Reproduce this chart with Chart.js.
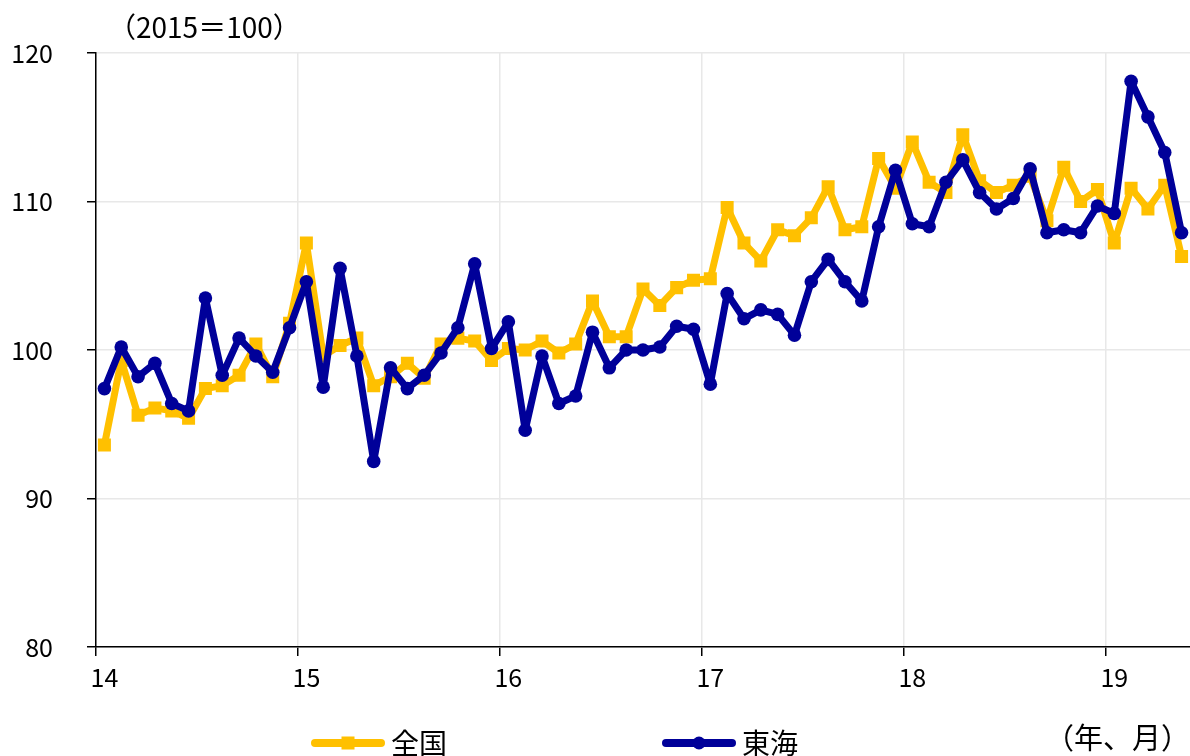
<!DOCTYPE html>
<html>
<head>
<meta charset="utf-8">
<script src="https://cdn.jsdelivr.net/npm/chart.js@4/dist/chart.umd.min.js"></script>
<style>
  html, body { margin: 0; padding: 0; background: #fff; overflow: hidden; }
  #wrap { width: 1190px; height: 756px; }
</style>
</head>
<body>
<div id="wrap"><canvas id="myChart"></canvas></div>
<script>
// 年ラベル(x軸) と月次カテゴリ 2014/1 - 2019/5
const years = ['14', '15', '16', '17', '18', '19'];
const months = [];
years.forEach(y => {
   for (let m = 1; m <= 12; m++) months.push(y + '/' + m);
});
const labels = months.slice(0, 65);

// 全国 (2015=100)
const zenkoku = [
   93.6, 99.3, 95.6, 96.1, 95.9, 95.4, 97.4, 97.6, 98.3, 100.4, 98.2, 101.8,
   107.2, 99.6, 100.3, 100.8, 97.6, 98.2, 99.1, 98.1, 100.4, 100.8, 100.6, 99.3,
   100.1, 100.0, 100.6, 99.8, 100.4, 103.3, 100.9, 100.9, 104.1, 103.0, 104.2, 104.7,
   104.8, 109.6, 107.2, 106.0, 108.1, 107.7, 108.9, 111.0, 108.1, 108.3, 112.9, 110.9,
   114.0, 111.3, 110.6, 114.5, 111.4, 110.6, 111.1, 111.7, 108.7, 112.3, 110.0, 110.8,
   107.2, 110.9, 109.5, 111.1, 106.3,
];

// 東海 (2015=100)
const tokai = [
   97.4, 100.2, 98.2, 99.1, 96.4, 95.9, 103.5, 98.3, 100.8, 99.6, 98.5, 101.5,
   104.6, 97.5, 105.5, 99.6, 92.5, 98.8, 97.4, 98.3, 99.8, 101.5, 105.8, 100.1,
   101.9, 94.6, 99.6, 96.4, 96.9, 101.2, 98.8, 100.0, 100.0, 100.2, 101.6, 101.4,
   97.7, 103.8, 102.1, 102.7, 102.4, 101.0, 104.6, 106.1, 104.6, 103.3, 108.3, 112.1,
   108.5, 108.3, 111.3, 112.8, 110.6, 109.5, 110.2, 112.2, 107.9, 108.1, 107.9, 109.7,
   109.2, 118.1, 115.7, 113.3, 107.9,
];

const yTicks = [80, 90, 100, 110, 120];

const YELLOW = '#FFC000';
const NAVY = '#000099';
const FONT = '"Noto Sans CJK JP", "Noto Sans", sans-serif';

// 凡例用の線+マーカー画像
function legendImage(color, marker) {
   const boxW = 273;
   const c = document.createElement('canvas');
   c.width = boxW + 16;
   c.height = 20;
   const g = c.getContext('2d');
   g.strokeStyle = color;
   g.lineWidth = 8;
   g.lineCap = 'round';
   g.beginPath();
   g.moveTo(c.width - 70, 10);
   g.lineTo(c.width - 4, 10);
   g.stroke();
   g.fillStyle = color;
   const cx = c.width - 37;
   if (marker === 'rect') {
      g.fillRect(cx - 6.5, 3.5, 13, 13);
   } else {
      g.beginPath();
      g.arc(cx, 10, 6.5, 0, Math.PI * 2);
      g.fill();
   }
   return c;
}

const notes = {
   id: 'notes',
   afterDraw(chart) {
      const ctx = chart.ctx;
      ctx.save();
      ctx.fillStyle = '#000';
      ctx.textBaseline = 'middle';
      ctx.textAlign = 'left';
      ctx.font = '28px ' + FONT;
      ctx.fillText('（2015＝100）', 108, 27);
      ctx.font = '29px ' + FONT;
      ctx.fillText('（年、月）', 1045, 738);
      ctx.restore();
   },
};

const data = {
   labels: labels,
   datasets: [
      {
         label: '全国',
         data: zenkoku,
         borderColor: YELLOW,
         backgroundColor: YELLOW,
         borderWidth: 7,
         pointStyle: 'rect',
         pointRadius: 9.2,
         pointHoverRadius: 9.2,
         pointBorderWidth: 0,
         order: 1,
      },
      {
         label: '東海',
         data: tokai,
         borderColor: NAVY,
         backgroundColor: NAVY,
         borderWidth: 7,
         pointStyle: 'circle',
         pointRadius: 6.8,
         pointHoverRadius: 6.8,
         pointBorderWidth: 0,
         order: 0,
      },
   ],
};

const config = {
   type: 'line',
   data: data,
   plugins: [notes],
   options: {
      animation: false,
      responsive: true,
      maintainAspectRatio: false,
      layout: {
         autoPadding: false,
         padding: { top: 53, left: 0, right: 0, bottom: 0 },
      },
      elements: {
         line: { tension: 0, borderJoinStyle: 'round', borderCapStyle: 'round' },
      },
      plugins: {
         tooltip: { enabled: false },
         legend: {
            position: 'bottom',
            align: 'start',
            fullSize: false,
            maxHeight: 35,
            labels: {
               usePointStyle: true,
               pointStyleWidth: 273,
               padding: 8,
               color: '#000',
               font: { family: FONT, size: 28 },
               generateLabels: chart => chart.data.datasets.map((ds, i) => ({
                  text: ds.label,
                  pointStyle: legendImage(ds.borderColor, ds.pointStyle),
                  fillStyle: ds.borderColor,
                  strokeStyle: ds.borderColor,
                  lineWidth: 0,
                  hidden: false,
                  datasetIndex: i,
               })),
            },
         },
      },
      scales: {
         x: {
            type: 'category',
            offset: true,
            afterFit: s => {
               s.height = 74;
               s.paddingLeft = 0;
               s.paddingRight = 0;
            },
            grid: {
               offset: true,
               tickLength: 9,
               color: c => (c.index % 12 === 0 ? '#e8e8e8' : 'rgba(0,0,0,0)'),
               tickColor: c => (c.index % 12 === 0 ? '#000' : 'rgba(0,0,0,0)'),
               lineWidth: 1.5,
            },
            border: { color: '#000', width: 1.5 },
            ticks: {
               autoSkip: false,
               maxRotation: 0,
               minRotation: 0,
               padding: 6,
               color: '#000',
               font: { family: FONT, size: 25 },
               callback: (v, i) => (i % 12 === 0 ? years[i / 12] : ''),
            },
         },
         y: {
            min: 80,
            max: 120,
            afterFit: s => { s.width = 96; },
            afterBuildTicks: s => { s.ticks = yTicks.map(v => ({ value: v })); },
            grid: {
               tickLength: 9,
               color: '#e8e8e8',
               tickColor: '#000',
               lineWidth: 1.5,
            },
            border: { color: '#000', width: 1.5 },
            ticks: {
               padding: 34,
               color: '#000',
               font: { family: FONT, size: 25 },
            },
         },
      },
   },
};

const myChart = new Chart(document.getElementById('myChart'), config);
</script>
</body>
</html>
